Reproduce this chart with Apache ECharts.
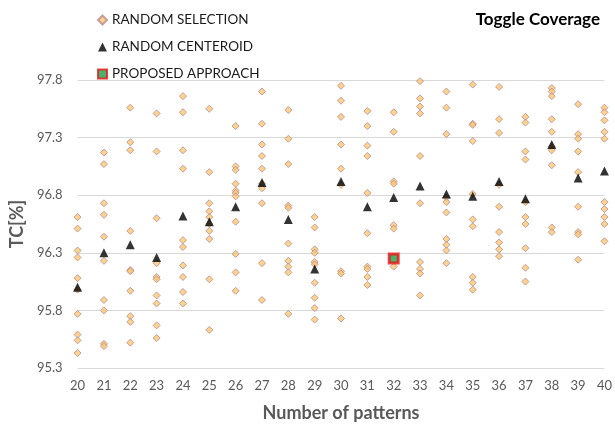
<!DOCTYPE html>
<html>
<head>
<meta charset="utf-8">
<script src="https://cdn.jsdelivr.net/npm/echarts@6/dist/echarts.min.js"></script>
<style>
  html, body { margin: 0; padding: 0; background: #fff; }
  #chart { width: 615px; height: 429px; }
</style>
</head>
<body>
<div id="chart"></div>
<script>
// Number of test patterns on the x axis
const categories = ['20','21','22','23','24','25','26','27','28','29','30',
                    '31','32','33','34','35','36','37','38','39','40'];

// Toggle coverage (%) of each random selection run, per pattern count
const randomSelection = [
  [96.61, 96.51, 96.32, 96.26, 96.08, 95.98, 95.77, 95.59, 95.54, 95.43],
  [97.17, 97.07, 96.73, 96.63, 96.44, 96.23, 95.89, 95.80, 95.51, 95.49],
  [97.56, 97.26, 97.19, 96.49, 96.15, 96.14, 95.97, 95.75, 95.70, 95.52],
  [97.51, 97.18, 96.60, 96.21, 96.09, 96.07, 95.93, 95.86, 95.67, 95.56],
  [97.66, 97.52, 97.19, 97.03, 96.41, 96.35, 96.19, 96.09, 95.96, 95.86],
  [97.55, 97.00, 96.73, 96.66, 96.61, 96.55, 96.49, 96.42, 96.07, 95.63],
  [97.40, 97.05, 97.02, 96.90, 96.84, 96.82, 96.79, 96.57, 96.29, 96.13, 95.97],
  [97.70, 97.42, 97.24, 97.14, 97.03, 96.90, 96.86, 96.73, 96.21, 95.89],
  [97.54, 97.29, 97.07, 96.71, 96.69, 96.38, 96.23, 96.18, 96.13, 95.77],
  [96.61, 96.52, 96.33, 96.30, 96.22, 96.20, 96.04, 95.91, 95.82, 95.72],
  [97.75, 97.62, 97.48, 97.24, 97.03, 96.89, 96.14, 96.12, 95.73],
  [97.53, 97.40, 97.23, 97.14, 96.82, 96.47, 96.18, 96.16, 96.09, 96.02],
  [97.52, 97.35, 96.92, 96.90, 96.54, 96.51, 96.18],
  [97.79, 97.64, 97.57, 97.51, 97.14, 96.73, 96.22, 96.16, 96.12, 95.93],
  [97.70, 97.56, 97.33, 96.78, 96.74, 96.65, 96.42, 96.37, 96.32, 96.21],
  [97.76, 97.42, 97.41, 97.27, 96.81, 96.59, 96.53, 96.09, 96.04, 95.98],
  [97.74, 97.46, 97.34, 96.89, 96.70, 96.48, 96.39, 96.33, 96.27],
  [97.48, 97.43, 97.18, 97.11, 96.74, 96.61, 96.55, 96.34, 96.17, 96.05],
  [97.73, 97.70, 97.66, 97.46, 97.35, 97.22, 97.19, 97.06, 96.52, 96.48],
  [97.59, 97.33, 97.29, 97.18, 97.00, 96.70, 96.48, 96.46, 96.24],
  [97.56, 97.52, 97.45, 97.35, 97.29, 96.74, 96.68, 96.61, 96.55, 96.40]
];

// Toggle coverage of the random centeroid run, per pattern count
const randomCenteroid = [96.00, 96.30, 96.37, 96.26, 96.62, 96.57, 96.70, 96.91, 96.59, 96.16,
                         96.92, 96.70, 96.78, 96.88, 96.81, 96.79, 96.92, 96.77, 97.24, 96.95, 97.01];

// Proposed approach: a single result
const proposedCategory = '32';
const proposedValue = 96.25;

const selectionPoints = [];
randomSelection.forEach((vals, i) => {
  vals.forEach(v => selectionPoints.push([categories[i], v]));
});
const centeroidPoints = randomCenteroid.map((v, i) => [categories[i], v]);

const FONT = 'Lato';
const chart = echarts.init(document.getElementById('chart'), null, { renderer: 'canvas' });
chart.setOption({
  animation: false,
  backgroundColor: '#ffffff',
  textStyle: { fontFamily: FONT },
  title: {
    text: 'Toggle Coverage',
    right: 10,
    top: 6,
    textStyle: { fontFamily: FONT, fontSize: 17, fontWeight: 'bold', color: '#000000' }
  },
  legend: {
    orient: 'vertical',
    left: 92,
    top: 8,
    itemWidth: 9,
    itemHeight: 9,
    itemGap: 13,
    textStyle: { fontFamily: FONT, fontSize: 13.5, color: '#1a1a1a' },
    data: ['RANDOM SELECTION', 'RANDOM CENTEROID', 'PROPOSED APPROACH']
  },
  grid: { left: 72, right: 8, top: 80, bottom: 61, containLabel: false },
  xAxis: {
    type: 'category',
    data: categories,
    boundaryGap: false,
    name: 'Number of patterns',
    nameLocation: 'middle',
    nameGap: 36,
    nameTextStyle: { fontFamily: FONT, fontSize: 18, fontWeight: 'bold', color: '#595959' },
    axisLine: { show: false },
    axisTick: { show: false },
    axisLabel: { color: '#595959', fontSize: 13, margin: 11, fontFamily: FONT },
    splitLine: { show: false }
  },
  yAxis: {
    type: 'value',
    min: 95.3,
    max: 97.8,
    interval: 0.5,
    name: 'TC[%]',
    nameLocation: 'middle',
    nameGap: 48,
    nameTextStyle: { fontFamily: FONT, fontSize: 18, fontWeight: 'bold', color: '#595959' },
    axisLine: { show: false },
    axisTick: { show: false },
    axisLabel: { color: '#595959', fontSize: 13, margin: 15, fontFamily: FONT,
                 formatter: v => v.toFixed(1) },
    splitLine: { lineStyle: { color: '#d9d9d9', width: 1 } }
  },
  series: [
    {
      name: 'RANDOM SELECTION',
      type: 'scatter',
      symbol: 'diamond',
      symbolSize: 7,
      itemStyle: { color: '#FDC870', borderColor: '#B8898C', borderWidth: 1 },
      data: selectionPoints,
      z: 2
    },
    {
      name: 'RANDOM CENTEROID',
      type: 'scatter',
      symbol: 'triangle',
      symbolSize: 9,
      itemStyle: { color: '#000000' },
      data: centeroidPoints,
      z: 3
    },
    {
      name: 'PROPOSED APPROACH',
      type: 'scatter',
      symbol: 'rect',
      symbolSize: 9,
      itemStyle: { color: '#1E9E4A', borderColor: '#EE1111', borderWidth: 3 },
      data: [[proposedCategory, proposedValue]],
      z: 4
    }
  ]
});
</script>
</body>
</html>
